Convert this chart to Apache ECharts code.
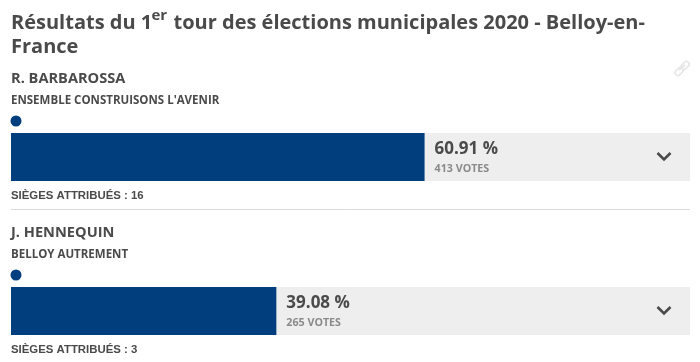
<!DOCTYPE html>
<html><head><meta charset="utf-8">
<style>html,body{margin:0;padding:0;background:#fff}#c{width:700px;height:362px}</style>
<script src="https://cdn.jsdelivr.net/npm/echarts@6/dist/echarts.min.js"></script>
</head><body><div id="c"></div>
<script>
const candidates = ['R. BARBAROSSA', 'J. HENNEQUIN'];
const lists = ["ENSEMBLE CONSTRUISONS L'AVENIR", 'BELLOY AUTREMENT'];
const percents = [60.91, 39.08];
const votes = [413, 265];
const seats = [16, 3];
const dark = '#4a4a4a', blue = '#003e7e', grey = '#8a8a8a';
const font = '"Open Sans"';
const barTops = [133, 287];
const chart = echarts.init(document.getElementById('c'), null, {renderer: 'canvas'});
const graphic = [];
const Z = 100;
function txt(x, y, text, size, weight, fill, family) {
  graphic.push({type: 'text', z: Z, x, y, silent: true, style: {text, fontSize: size, fontWeight: weight, fill, fontFamily: family || font, textVerticalAlign: 'middle'}});
}
txt(11, 23, 'Résultats du 1', 20, 700, dark);
txt(151.5, 16, 'er', 15, 700, dark);
txt(173.5, 23, 'tour des élections municipales 2020 - Belloy-en-', 20, 700, dark);
txt(11, 47, 'France', 20, 700, dark);
candidates.forEach((name, i) => {
  const t = barTops[i];
  txt(11, t - 54, name, 14.6, 700, dark);
  txt(11, t - 32.5, lists[i], 11.5, 700, dark);
  graphic.push({type: 'circle', z: Z, silent: true, shape: {cx: 16, cy: t - 12, r: 5.5}, style: {fill: blue}});
  const lx = 11 + 679 * percents[i] / 100 + 10;
  txt(lx, t + 16, percents[i].toFixed(2) + ' %', 17, 700, dark);
  txt(lx, t + 36, votes[i] + ' VOTES', 10.7, 700, grey);
  txt(11, t + 62.5, 'SIÈGES ATTRIBUÉS : ' + seats[i], 11.4, 700, dark, '"Liberation Sans"');
  graphic.push({type: 'polyline', z: Z, silent: true, shape: {points: [[657.5, t + 20], [664, t + 26.5], [670.5, t + 20]]}, style: {stroke: dark, lineWidth: 2.6, fill: null}});
});
graphic.push({type: 'line', z: Z, silent: true, shape: {x1: 11, y1: 209.5, x2: 690, y2: 209.5}, style: {stroke: '#dddddd', lineWidth: 1}});
// link icon
graphic.push({type: 'line', z: Z, silent: true, shape: {x1: 679, y1: 70, x2: 685, y2: 65}, style: {stroke: '#e6e6e6', lineWidth: 2}});
graphic.push({type: 'rect', z: Z, silent: true, x: 681, y: 63, rotation: 0.78, originX: 4, originY: 3, shape: {width: 9, height: 5.5, r: 2.7}, style: {stroke: '#e6e6e6', lineWidth: 1.6, fill: null}});
graphic.push({type: 'rect', z: Z, silent: true, x: 675, y: 69, rotation: 0.78, originX: 4, originY: 3, shape: {width: 9, height: 5.5, r: 2.7}, style: {stroke: '#e6e6e6', lineWidth: 1.6, fill: null}});

chart.setOption({
  animation: false,
  backgroundColor: '#fff',
  grid: barTops.map(t => ({left: 11, width: 679, top: t, height: 48})),
  xAxis: barTops.map((t, i) => ({gridIndex: i, type: 'value', min: 0, max: 100, show: false})),
  yAxis: barTops.map((t, i) => ({gridIndex: i, type: 'category', data: [candidates[i]], show: false})),
  series: percents.map((p, i) => ({
    type: 'bar', xAxisIndex: i, yAxisIndex: i, data: [p], barWidth: 48, silent: true,
    showBackground: true, backgroundStyle: {color: '#eeeeee'},
    itemStyle: {color: blue}
  })),
  graphic
});
</script></body></html>
